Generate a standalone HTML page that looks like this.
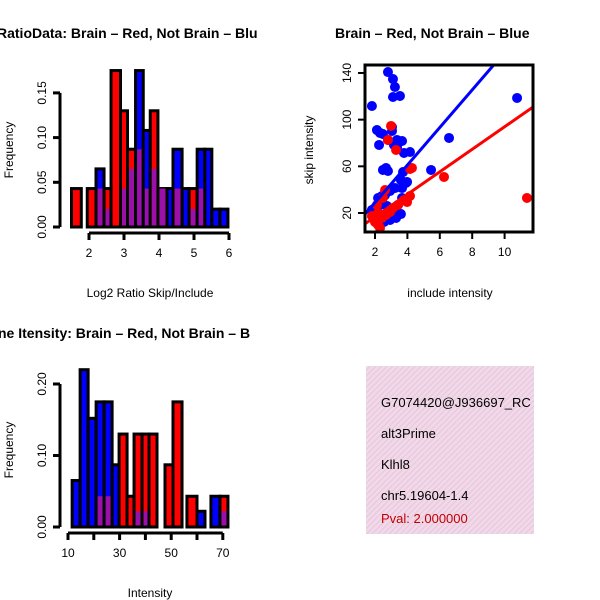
<!DOCTYPE html>
<html><head><meta charset="utf-8"><style>
body{margin:0;background:#fff}
svg{display:block;font-family:"Liberation Sans",sans-serif}
</style></head><body>
<svg id="c" width="600" height="600" viewBox="0 0 600 600">
<defs>
<pattern id="hatch" width="4" height="4" patternUnits="userSpaceOnUse" patternTransform="rotate(45)">
<rect width="4" height="4" fill="#f5d6f0"/><rect width="1.3" height="4" fill="#e2cfcf"/>
</pattern>
<clipPath id="clipBox"><rect x="366" y="366" width="168" height="168"/></clipPath>
</defs>
<text x="-3" y="38" font-size="14" font-weight="bold">RatioData: Brain – Red, Not Brain – Blu</text>
<text x="335" y="38" font-size="14" font-weight="bold">Brain – Red, Not Brain – Blue</text>
<text x="-2" y="338" font-size="14" font-weight="bold">ne Itensity: Brain – Red, Not Brain – B</text>
<text x="150" y="297" font-size="12" text-anchor="middle">Log2 Ratio Skip/Include</text>
<text transform="translate(13,150) rotate(-90)" font-size="12" text-anchor="middle">Frequency</text>
<text x="450" y="297" font-size="12" text-anchor="middle">include intensity</text>
<text transform="translate(313,150) rotate(-90)" font-size="12" text-anchor="middle">skip intensity</text>
<text x="150" y="597" font-size="12" text-anchor="middle">Intensity</text>
<text transform="translate(13,450) rotate(-90)" font-size="12" text-anchor="middle">Frequency</text>
<g>
<rect x="366" y="366" width="168" height="168" fill="url(#hatch)"/>
<g clip-path="url(#clipBox)" font-size="13">
<text x="381" y="407">G7074420@J936697_RC</text>
<text x="381" y="438">alt3Prime</text>
<text x="381" y="469">Klhl8</text>
<text x="381" y="500">chr5.19604-1.4</text>
<text x="381" y="523" fill="#c00000">Pval: 2.000000</text>
</g></g>
<g id="g1"></g><g id="g2"></g><g id="g3"></g>
</svg>
<script>
// ratio histogram data
const ratioStart=[1.5,1.95,2.2,2.43,2.63,2.9,3.1,3.33,3.55,3.75,3.97,4.23,4.4,4.66,4.86,5.09,5.31,5.51,5.74];
const ratioEnd  =[1.78,2.2,2.43,2.63,2.9,3.1,3.33,3.55,3.75,3.97,4.23,4.4,4.66,4.86,5.09,5.31,5.51,5.74,5.97];
const ratioRed  =[.043,.043,.043,.043,.175,.13,.087,.087,.043,.13,.043,0,.043,0,.043,.043,0,0,0];
const ratioBlue =[0,0,.065,.02,0,.043,.065,.175,.108,.065,.043,.043,.087,.043,.02,.087,.087,.02,.02];
const ratioXTicks=[2,3,4,5,6];
const ratioYTicks=[0,0.05,0.10,0.15];
const ratioYLabels=["0.00","0.05","0.10","0.15"];
// intensity histogram data
const intStart=[11.6,14.7,17.8,20.9,24.0,27.1,29.8,32.9,35.6,38.7,41.4,47.6,50.7,56.1,60.0,65.4,68.9];
const intEnd  =[14.7,17.8,20.9,24.0,27.1,29.8,32.9,35.6,38.7,41.4,44.5,50.7,54.2,60.0,63.1,68.9,72.0];
const intRed  =[0,0,0,.043,.043,0,.13,.043,.13,.13,.13,.087,.175,.043,0,0,.043];
const intBlue =[.065,.22,.152,.175,.175,.087,0,0,.022,.022,0,0,0,0,.022,.043,.022];
const intXTicks=[10,30,50,70];
const intXMinor=[20,40,60];
const intYTicks=[0,0.1,0.2];
const intYLabels=["0.00","0.10","0.20"];
// scatter data
const blueX=[1.81,2.80,3.11,3.23,3.11,3.54,2.12,2.31,2.49,2.25,3.05,3.05,2.80,3.17,3.36,3.67,3.36,2.49,2.68,2.80,3.79,4.16,3.73,3.60,3.98,3.67,3.91,2.43,2.19,2.62,2.93,3.23,2.31,2.74,3.30,3.67,3.42,3.60,2.56,2.93,3.30,1.81,5.46,6.57,10.77];
const blueY=[111.7,140.8,134.8,128.0,119.4,120.3,91.1,88.6,87.7,78.3,93.7,90.3,82.6,78.3,82.6,81.7,76.6,56.9,58.6,56.0,71.4,72.3,55.1,48.3,46.6,41.4,45.7,34.6,32.9,35.4,38.9,41.4,26.9,26.0,21.7,32.9,26.9,19.1,12.3,14.0,15.7,22.6,56.9,84.3,118.6];
const redX=[2.99,2.80,3.30,4.16,4.28,6.26,11.38,4.16,2.62,2.49,2.12,2.19,1.81,2.0,2.19,2.43,2.68,2.93,3.11,3.42,3.79,3.98,2.31];
const redY=[94.6,82.6,74.0,57.7,58.6,50.9,32.9,34.6,39.7,32.9,26.9,20.0,17.4,12.3,9.7,15.7,18.3,20.9,24.3,26.9,31.1,29.4,7.1];
const blueFit=[-3.3,16.1]; // intercept, slope
const redFit=[-2.6,9.65];
const scXTicks=[2,4,6,8,10];
const scYTicks=[20,60,100,140];

const NS="http://www.w3.org/2000/svg";
function mk(p,t,a){const e=document.createElementNS(NS,t);for(const k in a)e.setAttribute(k,a[k]);p.appendChild(e);return e;}

function hist(g,starts,ends,reds,blues,sx,sy,pre){
  for(let i=0;i<starts.length;i++){
    const x0=sx(starts[i]),x1=sx(ends[i]);const r=reds[i],b=blues[i];
    const mx=Math.max(r,b),mn=Math.min(r,b);
    if(mx<=0)continue;
    const top=mk(g,'rect',{x:x0,y:sy(mx),width:x1-x0,height:sy(0)-sy(mx),fill:r>=b?'#ff0000':'#0000ff',stroke:'#000','stroke-width':3});
    
    
    if(mn>0){
      const ov=mk(g,'rect',{x:x0+1.5,y:sy(mn),width:x1-x0-3,height:sy(0)-sy(mn)-1.5,fill:'#9a10a8'});
      
      
    }
  }
}
function yAxis(g,x,ticks,labels,sy,pre){
  mk(g,'line',{x1:x,x2:x,y1:sy(ticks[0]),y2:sy(ticks[ticks.length-1]),stroke:'#000','stroke-width':3});
  ticks.forEach((t,i)=>{
    mk(g,'line',{x1:x,x2:x-7,y1:sy(t),y2:sy(t),stroke:'#000','stroke-width':3});
    const tx=mk(g,'text',{transform:`translate(${x-14},${sy(t)}) rotate(-90)`,'font-size':12,'text-anchor':'middle'});
    tx.textContent=labels[i];
    
    
  });
}
function xAxis(g,y,ticks,minor,sx,pre){
  const all=ticks.concat(minor).sort((a,b)=>a-b);
  mk(g,'line',{x1:sx(all[0]),x2:sx(all[all.length-1]),y1:y,y2:y,stroke:'#000','stroke-width':3});
  all.forEach(t=>mk(g,'line',{x1:sx(t),x2:sx(t),y1:y,y2:y+7,stroke:'#000','stroke-width':3}));
  ticks.forEach(t=>{const tx=mk(g,'text',{x:sx(t),y:y+24,'font-size':12,'text-anchor':'middle'});tx.textContent=t;
    
    });
}
// plot 1
{const g=document.getElementById('g1');
 const sx=v=>89+(v-2)*35, sy=v=>227-v/0.05*44.7;
 hist(g,ratioStart,ratioEnd,ratioRed,ratioBlue,sx,sy,'ratio');
 yAxis(g,60,ratioYTicks,ratioYLabels,sy,'ratio');
 xAxis(g,233,ratioXTicks,[],sx,'ratio');}
// plot 3
{const g=document.getElementById('g3');
 const sx=v=>68+(v-10)*2.58, sy=v=>527-v*715;
 hist(g,intStart,intEnd,intRed,intBlue,sx,sy,'intensity');
 yAxis(g,60,intYTicks,intYLabels,sy,'intensity');
 xAxis(g,533,intXTicks,intXMinor,sx,'intensity');}
// scatter
{const g=document.getElementById('g2');
 const sx=v=>375+(v-2)*16.2, sy=v=>213-(v-20)/0.857;
 mk(g,'clipPath',{id:'scClip'}).appendChild(document.createElementNS(NS,'rect'));
 const cr=g.querySelector('#scClip rect');['x','y','width','height'].forEach((k,i)=>cr.setAttribute(k,[365,65,168,167][i]));
 const pts=mk(g,'g',{'clip-path':'url(#scClip)'});
 blueX.forEach((v,i)=>{const c=mk(pts,'circle',{cx:sx(v),cy:sy(blueY[i]),r:5,fill:'#0000ff'});
   
   });
 redX.forEach((v,i)=>{const c=mk(pts,'circle',{cx:sx(v),cy:sy(redY[i]),r:5,fill:'#ff0000'});
   
   });
 [[blueFit,'#0000ff','blue-fit-line'],[redFit,'#ff0000','red-fit-line']].forEach(([f,col,n])=>{
   const l=mk(pts,'line',{x1:sx(1),y1:sy(f[0]+f[1]*1),x2:sx(13),y2:sy(f[0]+f[1]*13),stroke:col,'stroke-width':3});
   
   });
 const box=mk(g,'rect',{x:365,y:65,width:168,height:167,fill:'none',stroke:'#000','stroke-width':3});
 
 
 scXTicks.forEach(t=>{mk(g,'line',{x1:sx(t),x2:sx(t),y1:232,y2:239,stroke:'#000','stroke-width':2});
   const tx=mk(g,'text',{x:sx(t),y:256,'font-size':12,'text-anchor':'middle'});tx.textContent=t;
   
   });
 scYTicks.forEach(t=>{mk(g,'line',{x1:365,x2:358,y1:sy(t),y2:sy(t),stroke:'#000','stroke-width':2});
   const tx=mk(g,'text',{transform:`translate(${351},${sy(t)}) rotate(-90)`,'font-size':12,'text-anchor':'middle'});tx.textContent=t;
   
   });
}
</script>
</body></html>
